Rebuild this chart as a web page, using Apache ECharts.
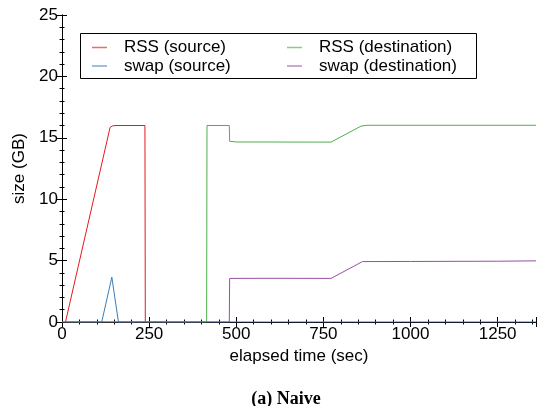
<!DOCTYPE html>
<html>
<head>
<meta charset="utf-8">
<script src="https://cdn.jsdelivr.net/npm/echarts@6/dist/echarts.min.js"></script>
<style>
  html, body { margin: 0; padding: 0; background: #fff; }
  #chart { width: 537px; height: 406px; }
</style>
</head>
<body>
<div id="chart"></div>
<script>
// elapsed time (sec) and size (GB)
const rssSrcTime  = [10, 138, 145, 155, 238, 239, 240];
const rssSrcSize  = [0, 15.85, 15.97, 16.0, 16.0, 0, 0];
const swapSrcTime = [10, 114, 143, 162, 1360];
const swapSrcSize = [0, 0, 3.65, 0, 0];
const rssDstTime  = [0, 415, 416, 480, 481, 500, 772, 858, 875, 1360];
const rssDstSize  = [0, 0, 16.0, 16.0, 14.72, 14.66, 14.65, 15.95, 16.02, 16.02];
const swapDstTime = [0, 480, 481, 600, 772, 862, 1000, 1250, 1360];
const swapDstSize = [0, 0, 3.55, 3.56, 3.55, 4.92, 4.93, 4.95, 4.98];

const xTicks = [0, 250, 500, 750, 1000, 1250];
const yTicks = [0, 5, 10, 15, 20, 25];

const pairs = (t, v) => t.map((x, i) => [x, v[i]]);

const font = 'Liberation Sans';
const fs = 17;
const tickCommon = { show: true, inside: true, length: 5, lineStyle: { color: '#000' } };
const minorCommon = { show: true, splitNumber: 5, length: 2.5, lineStyle: { color: '#000' } };
const lineCommon = { show: true, lineStyle: { color: '#000', width: 1 } };

const xBase = {
  type: 'value', min: 0, max: 1360, interval: xTicks[1] - xTicks[0],
  axisLine: lineCommon, axisTick: tickCommon, minorTick: minorCommon,
  splitLine: { show: false }
};
const yBase = {
  type: 'value', min: 0, max: yTicks[yTicks.length - 1], interval: yTicks[1] - yTicks[0],
  axisLine: lineCommon, axisTick: tickCommon, minorTick: minorCommon,
  splitLine: { show: false }
};

const line = (name, data, color) => ({
  name, type: 'line', data, showSymbol: false, symbol: 'none',
  lineStyle: { color, width: 1 }, itemStyle: { color }, animation: false
});

const legendCommon = {
  orient: 'vertical', padding: 0, itemWidth: 15, itemHeight: 1.5, itemGap: 1.5,
  icon: 'rect', itemStyle: { opacity: 0.65 },
  textStyle: { fontFamily: font, fontSize: fs, color: '#000', lineHeight: 16, padding: [0, 0, 0, 12] }
};

const chart = echarts.init(document.getElementById('chart'), null, { renderer: 'canvas' });
chart.setOption({
  animation: false,
  grid: { left: 62, top: 15, right: 1, bottom: 84, containLabel: false, outerBoundsMode: 'none' },
  xAxis: [
    Object.assign({}, xBase, {
      position: 'bottom',
      name: 'elapsed time (sec)', nameLocation: 'middle', nameGap: 24,
      nameTextStyle: { fontFamily: font, fontSize: fs, color: '#000' },
      axisLabel: { fontFamily: font, fontSize: fs, color: '#000', margin: 4, showMaxLabel: false,
                   formatter: v => String(v) }
    }),
    Object.assign({}, xBase, { position: 'top', axisLabel: { show: false } })
  ],
  yAxis: [
    Object.assign({}, yBase, {
      position: 'left',
      name: 'size (GB)', nameLocation: 'middle', nameGap: 33,
      nameTextStyle: { fontFamily: font, fontSize: fs, color: '#000' },
      axisLabel: { fontFamily: font, fontSize: fs, color: '#000', margin: 4 }
    }),
    Object.assign({}, yBase, { position: 'right', axisLabel: { show: false } })
  ],
  legend: [
    Object.assign({}, legendCommon, { left: 92, top: 39, data: ['RSS (source)', 'swap (source)'] }),
    Object.assign({}, legendCommon, { left: 287, top: 39, data: ['RSS (destination)', 'swap (destination)'] })
  ],
  graphic: [
    { type: 'rect', shape: { x: 80.5, y: 33.5, width: 396, height: 45 },
      style: { fill: 'rgba(0,0,0,0)', stroke: '#000', lineWidth: 1 }, z: 100 },
    { type: 'text', x: 286, y: 399,
      style: { text: '(a) Naive', font: 'bold 18px "Liberation Serif"', fill: '#000',
               textAlign: 'center', textVerticalAlign: 'middle' }, z: 100 }
  ],
  series: [
    line('RSS (source)', pairs(rssSrcTime, rssSrcSize), '#e41a1c'),
    line('RSS (destination)', pairs(rssDstTime, rssDstSize), '#4daf4a'),
    line('swap (destination)', pairs(swapDstTime, swapDstSize), '#984ea3'),
    line('swap (source)', pairs(swapSrcTime, swapSrcSize), '#377eb8')
  ]
});
</script>
</body>
</html>
